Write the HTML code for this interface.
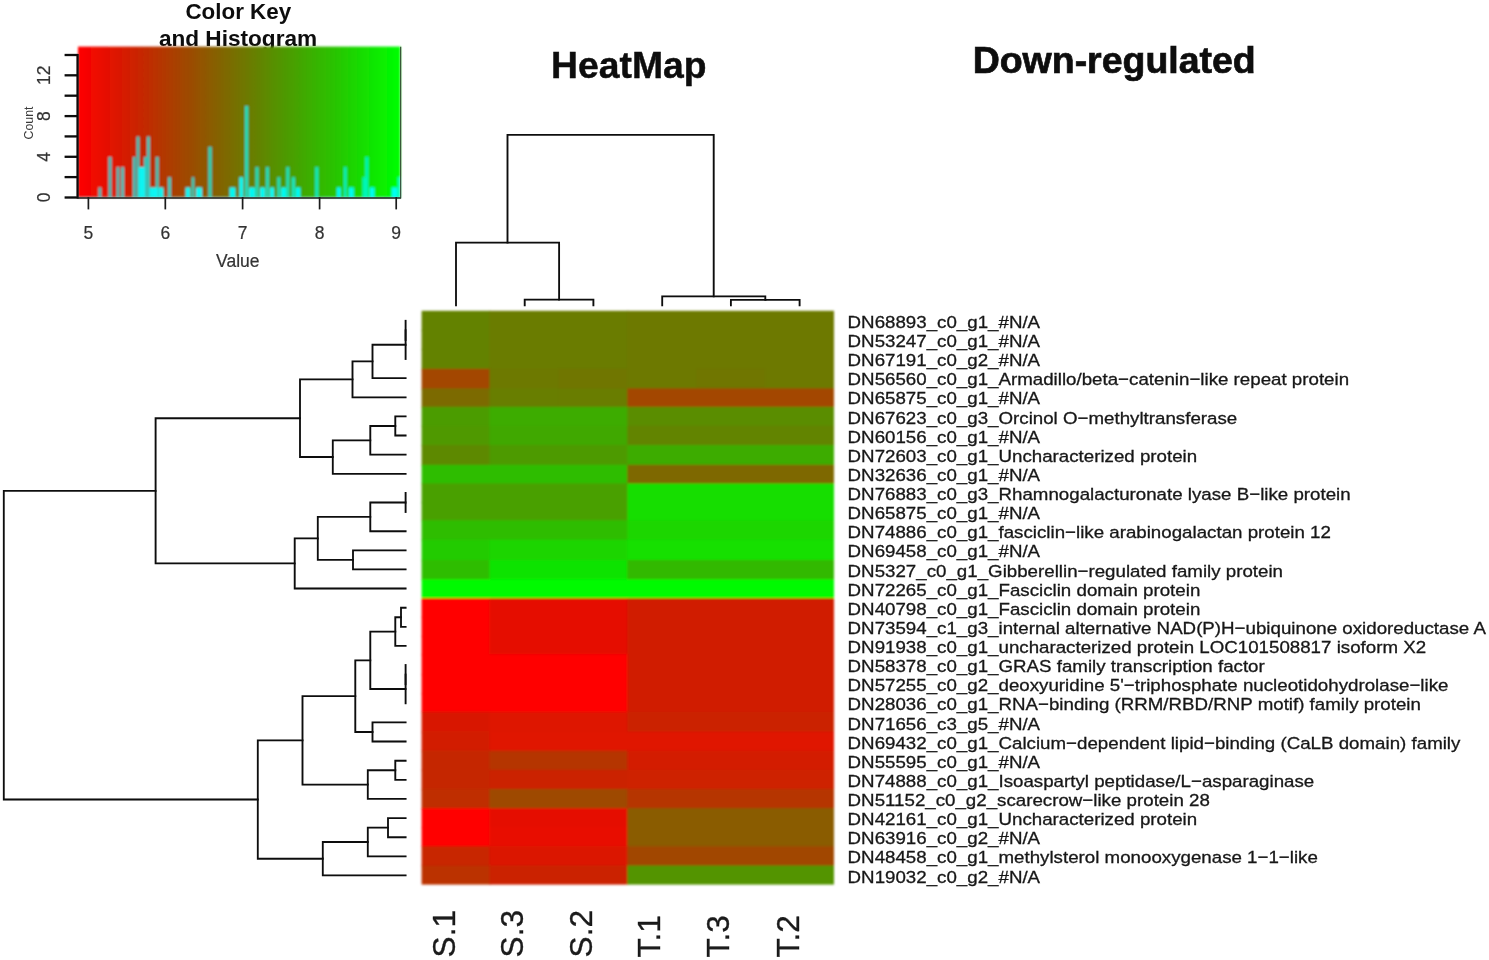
<!DOCTYPE html>
<html lang="en"><head><meta charset="utf-8"><title>HeatMap - Down-regulated</title>
<style>
html,body{margin:0;padding:0;background:#fff;}
body{width:1489px;height:960px;overflow:hidden;position:relative;}
svg{position:absolute;left:0;top:0;display:block;}
text{font-family:"Liberation Sans",Arial,Helvetica,sans-serif;}
.b{font-weight:bold;}
.lab{font-size:17.1px;fill:#161616;stroke:#161616;stroke-width:0.3;}
.ax{font-size:17.5px;fill:#333;stroke:#333;stroke-width:0.2;}
.dl{stroke:#0a0a0a;stroke-width:1.85;fill:none;stroke-linecap:square;}
</style></head><body>
<svg width="1489" height="960" viewBox="0 0 1489 960">
<defs>
<linearGradient id="rg" x1="0" y1="0" x2="1" y2="0"><stop offset="0.000" stop-color="#ff0000"/><stop offset="0.050" stop-color="#f00800"/><stop offset="0.100" stop-color="#e21200"/><stop offset="0.150" stop-color="#d41d00"/><stop offset="0.200" stop-color="#c52800"/><stop offset="0.250" stop-color="#b73400"/><stop offset="0.300" stop-color="#a94000"/><stop offset="0.350" stop-color="#9b4c00"/><stop offset="0.400" stop-color="#8e5900"/><stop offset="0.450" stop-color="#806600"/><stop offset="0.500" stop-color="#737300"/><stop offset="0.550" stop-color="#668000"/><stop offset="0.600" stop-color="#598e00"/><stop offset="0.650" stop-color="#4c9b00"/><stop offset="0.700" stop-color="#40a900"/><stop offset="0.750" stop-color="#34b700"/><stop offset="0.800" stop-color="#28c500"/><stop offset="0.850" stop-color="#1dd400"/><stop offset="0.900" stop-color="#12e200"/><stop offset="0.950" stop-color="#08f000"/><stop offset="1.000" stop-color="#00ff00"/></linearGradient>
<filter id="soft" x="-5%" y="-5%" width="110%" height="110%"><feGaussianBlur stdDeviation="0.55"/></filter>
<filter id="soft2" x="-5%" y="-5%" width="110%" height="110%"><feGaussianBlur stdDeviation="0.8"/></filter>
</defs>
<rect x="0" y="0" width="1489" height="960" fill="#ffffff"/>
<g filter="url(#soft)">
<text class="b" x="238.3" y="18.6" text-anchor="middle" font-size="22.4" fill="#0a0a0a">Color Key</text>
<text class="b" x="238" y="46.2" text-anchor="middle" font-size="22.6" fill="#0a0a0a">and Histogram</text>
<text class="b" x="628.8" y="77.9" text-anchor="middle" font-size="37.3" fill="#0a0a0a" stroke="#0a0a0a" stroke-width="0.4">HeatMap</text>
<text class="b" x="1114.2" y="73.2" text-anchor="middle" font-size="37" fill="#0a0a0a" stroke="#0a0a0a" stroke-width="0.7" textLength="283" lengthAdjust="spacingAndGlyphs">Down-regulated</text>
</g>
<g filter="url(#soft2)">
<rect x="78.0" y="46.6" width="322.4" height="151.0" fill="url(#rg)"/>
<rect x="98.4" y="187.4" width="3.0" height="10.2" fill="#00ffff" fill-opacity="0.72"/>
<rect x="108.4" y="156.9" width="3.2" height="40.7" fill="#00ffff" fill-opacity="0.72"/>
<rect x="116.5" y="167.1" width="3.0" height="30.5" fill="#00ffff" fill-opacity="0.72"/>
<rect x="121.1" y="167.1" width="3.0" height="30.5" fill="#00ffff" fill-opacity="0.72"/>
<rect x="132.8" y="156.9" width="3.0" height="40.7" fill="#00ffff" fill-opacity="0.72"/>
<rect x="136.5" y="136.5" width="3.0" height="61.1" fill="#00ffff" fill-opacity="0.72"/>
<rect x="138.8" y="167.1" width="6.0" height="30.5" fill="#00ffff" fill-opacity="0.95"/>
<rect x="143.9" y="156.9" width="3.0" height="40.7" fill="#00ffff" fill-opacity="0.72"/>
<rect x="146.9" y="136.5" width="3.0" height="61.1" fill="#00ffff" fill-opacity="0.72"/>
<rect x="149.5" y="187.4" width="8.0" height="10.2" fill="#00ffff" fill-opacity="0.95"/>
<rect x="155.7" y="156.9" width="3.0" height="40.7" fill="#00ffff" fill-opacity="0.72"/>
<rect x="158.5" y="187.4" width="5.0" height="10.2" fill="#00ffff" fill-opacity="0.95"/>
<rect x="167.9" y="177.2" width="3.2" height="20.4" fill="#00ffff" fill-opacity="0.72"/>
<rect x="185.5" y="187.4" width="5.0" height="10.2" fill="#00ffff" fill-opacity="0.95"/>
<rect x="191.7" y="177.2" width="2.6" height="20.4" fill="#00ffff" fill-opacity="0.72"/>
<rect x="196.0" y="187.4" width="6.0" height="10.2" fill="#00ffff" fill-opacity="0.95"/>
<rect x="208.3" y="146.7" width="3.4" height="50.9" fill="#00ffff" fill-opacity="0.72"/>
<rect x="229.5" y="187.4" width="6.0" height="10.2" fill="#00ffff" fill-opacity="0.95"/>
<rect x="239.3" y="177.2" width="4.0" height="20.4" fill="#00ffff" fill-opacity="0.95"/>
<rect x="244.9" y="106.0" width="3.4" height="91.6" fill="#00ffff" fill-opacity="0.72"/>
<rect x="249.0" y="187.4" width="6.0" height="10.2" fill="#00ffff" fill-opacity="0.95"/>
<rect x="255.4" y="167.1" width="3.2" height="30.5" fill="#00ffff" fill-opacity="0.72"/>
<rect x="260.0" y="187.4" width="5.0" height="10.2" fill="#00ffff" fill-opacity="0.95"/>
<rect x="265.9" y="167.1" width="3.0" height="30.5" fill="#00ffff" fill-opacity="0.72"/>
<rect x="270.0" y="187.4" width="4.0" height="10.2" fill="#00ffff" fill-opacity="0.95"/>
<rect x="277.3" y="177.2" width="3.0" height="20.4" fill="#00ffff" fill-opacity="0.72"/>
<rect x="281.1" y="187.4" width="5.0" height="10.2" fill="#00ffff" fill-opacity="0.95"/>
<rect x="286.3" y="167.1" width="3.0" height="30.5" fill="#00ffff" fill-opacity="0.72"/>
<rect x="291.6" y="177.2" width="3.4" height="20.4" fill="#00ffff" fill-opacity="0.72"/>
<rect x="295.5" y="187.4" width="5.0" height="10.2" fill="#00ffff" fill-opacity="0.95"/>
<rect x="315.2" y="167.1" width="3.2" height="30.5" fill="#00ffff" fill-opacity="0.72"/>
<rect x="336.8" y="187.4" width="4.0" height="10.2" fill="#00ffff" fill-opacity="0.95"/>
<rect x="343.9" y="167.1" width="2.8" height="30.5" fill="#00ffff" fill-opacity="0.72"/>
<rect x="348.8" y="187.4" width="5.0" height="10.2" fill="#00ffff" fill-opacity="0.95"/>
<rect x="362.5" y="177.2" width="3.0" height="20.4" fill="#00ffff" fill-opacity="0.72"/>
<rect x="365.3" y="156.9" width="3.0" height="40.7" fill="#00ffff" fill-opacity="0.72"/>
<rect x="369.5" y="187.4" width="5.0" height="10.2" fill="#00ffff" fill-opacity="0.95"/>
<rect x="391.6" y="187.4" width="6.0" height="10.2" fill="#00ffff" fill-opacity="0.95"/>
<rect x="397.6" y="177.2" width="2.4" height="20.4" fill="#00ffff" fill-opacity="0.72"/>
<line x1="78.0" y1="197.0" x2="400.4" y2="197.0" stroke="#00e0e0" stroke-opacity="0.35" stroke-width="1.2"/>
</g>
<g filter="url(#soft)">
<g stroke="#0a0a0a" stroke-width="2.3" fill="none">
<line x1="77.6" y1="54" x2="77.6" y2="198.6"/>
<line x1="64.6" y1="197.5" x2="78" y2="197.5"/>
<line x1="64.6" y1="177.1" x2="78" y2="177.1"/>
<line x1="64.6" y1="156.8" x2="78" y2="156.8"/>
<line x1="64.6" y1="136.4" x2="78" y2="136.4"/>
<line x1="64.6" y1="116.1" x2="78" y2="116.1"/>
<line x1="64.6" y1="95.7" x2="78" y2="95.7"/>
<line x1="64.6" y1="75.3" x2="78" y2="75.3"/>
<line x1="64.6" y1="55.0" x2="78" y2="55.0"/>
</g>
<g stroke="#1c1c1c" stroke-width="1.7" fill="none">
<line x1="78" y1="197.9" x2="400.8" y2="197.9" stroke-width="1.5"/>
<line x1="400.7" y1="46.8" x2="400.7" y2="198.4" stroke="#2a3a2a" stroke-width="1.1"/>
<line x1="88.4" y1="197" x2="88.4" y2="209.4"/>
<line x1="165.3" y1="197" x2="165.3" y2="209.4"/>
<line x1="242.6" y1="197" x2="242.6" y2="209.4"/>
<line x1="319.6" y1="197" x2="319.6" y2="209.4"/>
<line x1="396.2" y1="197" x2="396.2" y2="209.4"/>
</g>
<text class="ax" x="88.4" y="238.6" text-anchor="middle">5</text>
<text class="ax" x="165.3" y="238.6" text-anchor="middle">6</text>
<text class="ax" x="242.6" y="238.6" text-anchor="middle">7</text>
<text class="ax" x="319.6" y="238.6" text-anchor="middle">8</text>
<text class="ax" x="396.2" y="238.6" text-anchor="middle">9</text>
<text class="ax" x="237.8" y="267.4" text-anchor="middle" font-size="17.4">Value</text>
<text class="ax" transform="translate(50.2,197.5) rotate(-90)" text-anchor="middle">0</text>
<text class="ax" transform="translate(50.2,156.8) rotate(-90)" text-anchor="middle">4</text>
<text class="ax" transform="translate(50.2,116.1) rotate(-90)" text-anchor="middle">8</text>
<text class="ax" transform="translate(50.2,75.3) rotate(-90)" text-anchor="middle">12</text>
<text transform="translate(32.6,123) rotate(-90)" text-anchor="middle" font-size="12.4" fill="#3a3a3a">Count</text>
</g>
<g filter="url(#soft2)">
<rect x="421.60" y="310.80" width="68.80" height="20.13" fill="#648200"/>
<rect x="489.40" y="310.80" width="138.90" height="20.13" fill="#6b7b00"/>
<rect x="627.30" y="310.80" width="206.70" height="20.13" fill="#6d7900"/>
<rect x="421.60" y="329.93" width="68.80" height="20.13" fill="#648200"/>
<rect x="489.40" y="329.93" width="138.90" height="20.13" fill="#6b7b00"/>
<rect x="627.30" y="329.93" width="206.70" height="20.13" fill="#6d7900"/>
<rect x="421.60" y="349.05" width="68.80" height="20.75" fill="#648200"/>
<rect x="489.40" y="349.05" width="138.90" height="20.75" fill="#6b7b00"/>
<rect x="627.30" y="349.05" width="206.70" height="20.75" fill="#6d7900"/>
<rect x="421.60" y="368.80" width="68.80" height="20.60" fill="#a34600"/>
<rect x="489.40" y="368.80" width="69.90" height="20.60" fill="#6d7900"/>
<rect x="558.30" y="368.80" width="70.00" height="20.60" fill="#6f7600"/>
<rect x="627.30" y="368.80" width="69.90" height="20.60" fill="#6d7900"/>
<rect x="696.20" y="368.80" width="69.90" height="20.60" fill="#6f7600"/>
<rect x="765.10" y="368.80" width="68.90" height="20.60" fill="#6d7900"/>
<rect x="421.60" y="388.40" width="68.80" height="19.40" fill="#7c6a00"/>
<rect x="489.40" y="388.40" width="69.90" height="19.40" fill="#677e00"/>
<rect x="558.30" y="388.40" width="70.00" height="19.40" fill="#697d00"/>
<rect x="627.30" y="388.40" width="206.70" height="19.40" fill="#a34600"/>
<rect x="421.60" y="406.80" width="68.80" height="20.00" fill="#4b9c00"/>
<rect x="489.40" y="406.80" width="138.90" height="20.00" fill="#3eac00"/>
<rect x="627.30" y="406.80" width="206.70" height="20.00" fill="#5a8d00"/>
<rect x="421.60" y="425.80" width="68.80" height="20.20" fill="#4f9900"/>
<rect x="489.40" y="425.80" width="138.90" height="20.20" fill="#41a800"/>
<rect x="627.30" y="425.80" width="206.70" height="20.20" fill="#628400"/>
<rect x="421.60" y="445.00" width="68.80" height="20.80" fill="#5d8900"/>
<rect x="489.40" y="445.00" width="138.90" height="20.80" fill="#4e9a00"/>
<rect x="627.30" y="445.00" width="206.70" height="20.80" fill="#3eac00"/>
<rect x="421.60" y="464.80" width="206.70" height="19.60" fill="#2fbd00"/>
<rect x="627.30" y="464.80" width="206.70" height="19.60" fill="#7e6700"/>
<rect x="421.60" y="483.40" width="206.70" height="19.67" fill="#48a000"/>
<rect x="627.30" y="483.40" width="206.70" height="19.67" fill="#15de00"/>
<rect x="421.60" y="502.07" width="206.70" height="19.13" fill="#48a000"/>
<rect x="627.30" y="502.07" width="206.70" height="19.13" fill="#15de00"/>
<rect x="421.60" y="520.20" width="206.70" height="20.50" fill="#2fbd00"/>
<rect x="627.30" y="520.20" width="206.70" height="20.50" fill="#1bd600"/>
<rect x="421.60" y="539.70" width="68.80" height="21.30" fill="#24cb00"/>
<rect x="489.40" y="539.70" width="138.90" height="21.30" fill="#1cd500"/>
<rect x="627.30" y="539.70" width="206.70" height="21.30" fill="#13e000"/>
<rect x="421.60" y="560.00" width="68.80" height="20.20" fill="#2fbd00"/>
<rect x="489.40" y="560.00" width="138.90" height="20.20" fill="#11e300"/>
<rect x="627.30" y="560.00" width="206.70" height="20.20" fill="#33b900"/>
<rect x="421.60" y="579.20" width="412.40" height="20.00" fill="#03fa00"/>
<rect x="421.60" y="598.20" width="68.80" height="19.63" fill="#ff0000"/>
<rect x="489.40" y="598.20" width="138.90" height="19.63" fill="#e51000"/>
<rect x="627.30" y="598.20" width="206.70" height="19.63" fill="#d01f00"/>
<rect x="421.60" y="616.83" width="68.80" height="20.13" fill="#ff0000"/>
<rect x="489.40" y="616.83" width="138.90" height="20.13" fill="#e51000"/>
<rect x="627.30" y="616.83" width="206.70" height="20.13" fill="#d01f00"/>
<rect x="421.60" y="635.95" width="68.80" height="19.35" fill="#ff0000"/>
<rect x="489.40" y="635.95" width="138.90" height="19.35" fill="#e51000"/>
<rect x="627.30" y="635.95" width="206.70" height="19.35" fill="#d01f00"/>
<rect x="421.60" y="654.30" width="206.70" height="20.91" fill="#ff0000"/>
<rect x="627.30" y="654.30" width="206.70" height="20.91" fill="#d01f00"/>
<rect x="421.60" y="674.21" width="206.70" height="20.13" fill="#ff0000"/>
<rect x="627.30" y="674.21" width="206.70" height="20.13" fill="#d01f00"/>
<rect x="421.60" y="693.33" width="206.70" height="19.47" fill="#ff0000"/>
<rect x="627.30" y="693.33" width="206.70" height="19.47" fill="#d01f00"/>
<rect x="421.60" y="711.80" width="68.80" height="20.79" fill="#d81900"/>
<rect x="489.40" y="711.80" width="138.90" height="20.79" fill="#de1500"/>
<rect x="627.30" y="711.80" width="206.70" height="20.79" fill="#cb2400"/>
<rect x="421.60" y="731.59" width="68.80" height="20.13" fill="#d21e00"/>
<rect x="489.40" y="731.59" width="344.60" height="20.13" fill="#e01300"/>
<rect x="421.60" y="750.71" width="68.80" height="20.13" fill="#c52800"/>
<rect x="489.40" y="750.71" width="138.90" height="20.13" fill="#b53600"/>
<rect x="627.30" y="750.71" width="206.70" height="20.13" fill="#d31d00"/>
<rect x="421.60" y="769.84" width="68.80" height="20.13" fill="#c52800"/>
<rect x="489.40" y="769.84" width="138.90" height="20.13" fill="#cb2400"/>
<rect x="627.30" y="769.84" width="206.70" height="20.13" fill="#ce2100"/>
<rect x="421.60" y="788.97" width="68.80" height="20.13" fill="#bf2d00"/>
<rect x="489.40" y="788.97" width="138.90" height="20.13" fill="#9e4a00"/>
<rect x="627.30" y="788.97" width="206.70" height="20.13" fill="#b63500"/>
<rect x="421.60" y="808.09" width="68.80" height="20.13" fill="#ff0000"/>
<rect x="489.40" y="808.09" width="138.90" height="20.13" fill="#e51000"/>
<rect x="627.30" y="808.09" width="206.70" height="20.13" fill="#8a5c00"/>
<rect x="421.60" y="827.22" width="68.80" height="20.13" fill="#ff0000"/>
<rect x="489.40" y="827.22" width="138.90" height="20.13" fill="#e80e00"/>
<rect x="627.30" y="827.22" width="206.70" height="20.13" fill="#8a5c00"/>
<rect x="421.60" y="846.35" width="68.80" height="20.13" fill="#c82600"/>
<rect x="489.40" y="846.35" width="138.90" height="20.13" fill="#db1700"/>
<rect x="627.30" y="846.35" width="206.70" height="20.13" fill="#a14700"/>
<rect x="421.60" y="865.47" width="68.80" height="19.13" fill="#bb3000"/>
<rect x="489.40" y="865.47" width="138.90" height="19.13" fill="#cb2400"/>
<rect x="627.30" y="865.47" width="206.70" height="19.13" fill="#539400"/>
</g>
<g class="dl" filter="url(#soft)">
<path d="M524.7 305.2 V299.6 H593.4 V305.2"/>
<path d="M456.0 305.2 V242.6 H559.1 V299.6"/>
<path d="M730.9 305.2 V299.8 H799.6 V305.2"/>
<path d="M662.2 305.2 V296.4 H765.3 V299.8"/>
<path d="M507.5 242.6 V134.8 H713.7 V296.4"/>
</g>
<g class="dl" filter="url(#soft)">
<path d="M405.6 320.8 H405.6 V339.9 H405.6"/>
<path d="M405.6 330.3 H405.6 V359.0 H405.6"/>
<path d="M405.6 344.7 H372.5 V378.1 H405.6"/>
<path d="M372.5 361.4 H352.5 V397.3 H405.6"/>
<path d="M405.6 416.4 H395.3 V435.5 H405.6"/>
<path d="M395.3 426.0 H370.3 V454.6 H405.6"/>
<path d="M370.3 440.3 H332.8 V473.8 H405.6"/>
<path d="M352.5 379.3 H300.0 V457.0 H332.8"/>
<path d="M405.6 492.9 H405.6 V512.0 H405.6"/>
<path d="M405.6 502.5 H370.3 V531.2 H405.6"/>
<path d="M405.6 550.3 H353.0 V569.4 H405.6"/>
<path d="M370.3 516.8 H317.8 V559.8 H353.0"/>
<path d="M317.8 538.3 H294.7 V588.5 H405.6"/>
<path d="M300.0 418.2 H155.6 V563.4 H294.7"/>
<path d="M405.6 607.7 H401.0 V626.8 H405.6"/>
<path d="M401.0 617.2 H395.3 V645.9 H405.6"/>
<path d="M405.6 665.0 H405.6 V684.2 H405.6"/>
<path d="M405.6 674.6 H405.6 V703.3 H405.6"/>
<path d="M395.3 631.6 H370.3 V689.0 H405.6"/>
<path d="M405.6 722.4 H372.5 V741.5 H405.6"/>
<path d="M370.3 660.3 H355.3 V732.0 H372.5"/>
<path d="M405.6 760.7 H395.3 V779.8 H405.6"/>
<path d="M395.3 770.2 H367.8 V798.9 H405.6"/>
<path d="M355.3 696.1 H302.5 V784.6 H367.8"/>
<path d="M405.6 818.1 H388.0 V837.2 H405.6"/>
<path d="M388.0 827.6 H367.8 V856.3 H405.6"/>
<path d="M367.8 842.0 H322.8 V875.4 H405.6"/>
<path d="M302.5 740.4 H257.8 V858.7 H322.8"/>
<path d="M155.6 490.8 H3.8 V799.5 H257.8"/>
</g>
<g class="lab" filter="url(#soft)">
<text transform="translate(847.6,327.9) scale(1.095,1)">DN68893_c0_g1_#N/A</text>
<text transform="translate(847.6,347.0) scale(1.095,1)">DN53247_c0_g1_#N/A</text>
<text transform="translate(847.6,366.1) scale(1.095,1)">DN67191_c0_g2_#N/A</text>
<text transform="translate(847.6,385.2) scale(1.095,1)">DN56560_c0_g1_Armadillo/beta−catenin−like repeat protein</text>
<text transform="translate(847.6,404.4) scale(1.095,1)">DN65875_c0_g1_#N/A</text>
<text transform="translate(847.6,423.5) scale(1.095,1)">DN67623_c0_g3_Orcinol O−methyltransferase</text>
<text transform="translate(847.6,442.6) scale(1.095,1)">DN60156_c0_g1_#N/A</text>
<text transform="translate(847.6,461.8) scale(1.095,1)">DN72603_c0_g1_Uncharacterized protein</text>
<text transform="translate(847.6,480.9) scale(1.095,1)">DN32636_c0_g1_#N/A</text>
<text transform="translate(847.6,500.0) scale(1.095,1)">DN76883_c0_g3_Rhamnogalacturonate lyase B−like protein</text>
<text transform="translate(847.6,519.1) scale(1.095,1)">DN65875_c0_g1_#N/A</text>
<text transform="translate(847.6,538.3) scale(1.095,1)">DN74886_c0_g1_fasciclin−like arabinogalactan protein 12</text>
<text transform="translate(847.6,557.4) scale(1.095,1)">DN69458_c0_g1_#N/A</text>
<text transform="translate(847.6,576.5) scale(1.095,1)">DN5327_c0_g1_Gibberellin−regulated family protein</text>
<text transform="translate(847.6,595.6) scale(1.095,1)">DN72265_c0_g1_Fasciclin domain protein</text>
<text transform="translate(847.6,614.8) scale(1.095,1)">DN40798_c0_g1_Fasciclin domain protein</text>
<text transform="translate(847.6,633.9) scale(1.095,1)">DN73594_c1_g3_internal alternative NAD(P)H−ubiquinone oxidoreductase A</text>
<text transform="translate(847.6,653.0) scale(1.095,1)">DN91938_c0_g1_uncharacterized protein LOC101508817 isoform X2</text>
<text transform="translate(847.6,672.1) scale(1.095,1)">DN58378_c0_g1_GRAS family transcription factor</text>
<text transform="translate(847.6,691.3) scale(1.095,1)">DN57255_c0_g2_deoxyuridine 5'−triphosphate nucleotidohydrolase−like</text>
<text transform="translate(847.6,710.4) scale(1.095,1)">DN28036_c0_g1_RNA−binding (RRM/RBD/RNP motif) family protein</text>
<text transform="translate(847.6,729.5) scale(1.095,1)">DN71656_c3_g5_#N/A</text>
<text transform="translate(847.6,748.6) scale(1.095,1)">DN69432_c0_g1_Calcium−dependent lipid−binding (CaLB domain) family</text>
<text transform="translate(847.6,767.8) scale(1.095,1)">DN55595_c0_g1_#N/A</text>
<text transform="translate(847.6,786.9) scale(1.095,1)">DN74888_c0_g1_Isoaspartyl peptidase/L−asparaginase</text>
<text transform="translate(847.6,806.0) scale(1.095,1)">DN51152_c0_g2_scarecrow−like protein 28</text>
<text transform="translate(847.6,825.2) scale(1.095,1)">DN42161_c0_g1_Uncharacterized protein</text>
<text transform="translate(847.6,844.3) scale(1.095,1)">DN63916_c0_g2_#N/A</text>
<text transform="translate(847.6,863.4) scale(1.095,1)">DN48458_c0_g1_methylsterol monooxygenase 1−1−like</text>
<text transform="translate(847.6,882.5) scale(1.095,1)">DN19032_c0_g2_#N/A</text>
</g>
<g filter="url(#soft)" font-size="31.6" fill="#1a1a1a" stroke="#1a1a1a" stroke-width="0.35">
<text transform="translate(455.2,957.4) rotate(-90)">S.1</text>
<text transform="translate(523.0,957.4) rotate(-90)">S.3</text>
<text transform="translate(592.3,957.4) rotate(-90)">S.2</text>
<text transform="translate(659.8,957.4) rotate(-90)">T.1</text>
<text transform="translate(729.2,957.4) rotate(-90)">T.3</text>
<text transform="translate(799.4,957.4) rotate(-90)">T.2</text>
</g>
</svg></body></html>
